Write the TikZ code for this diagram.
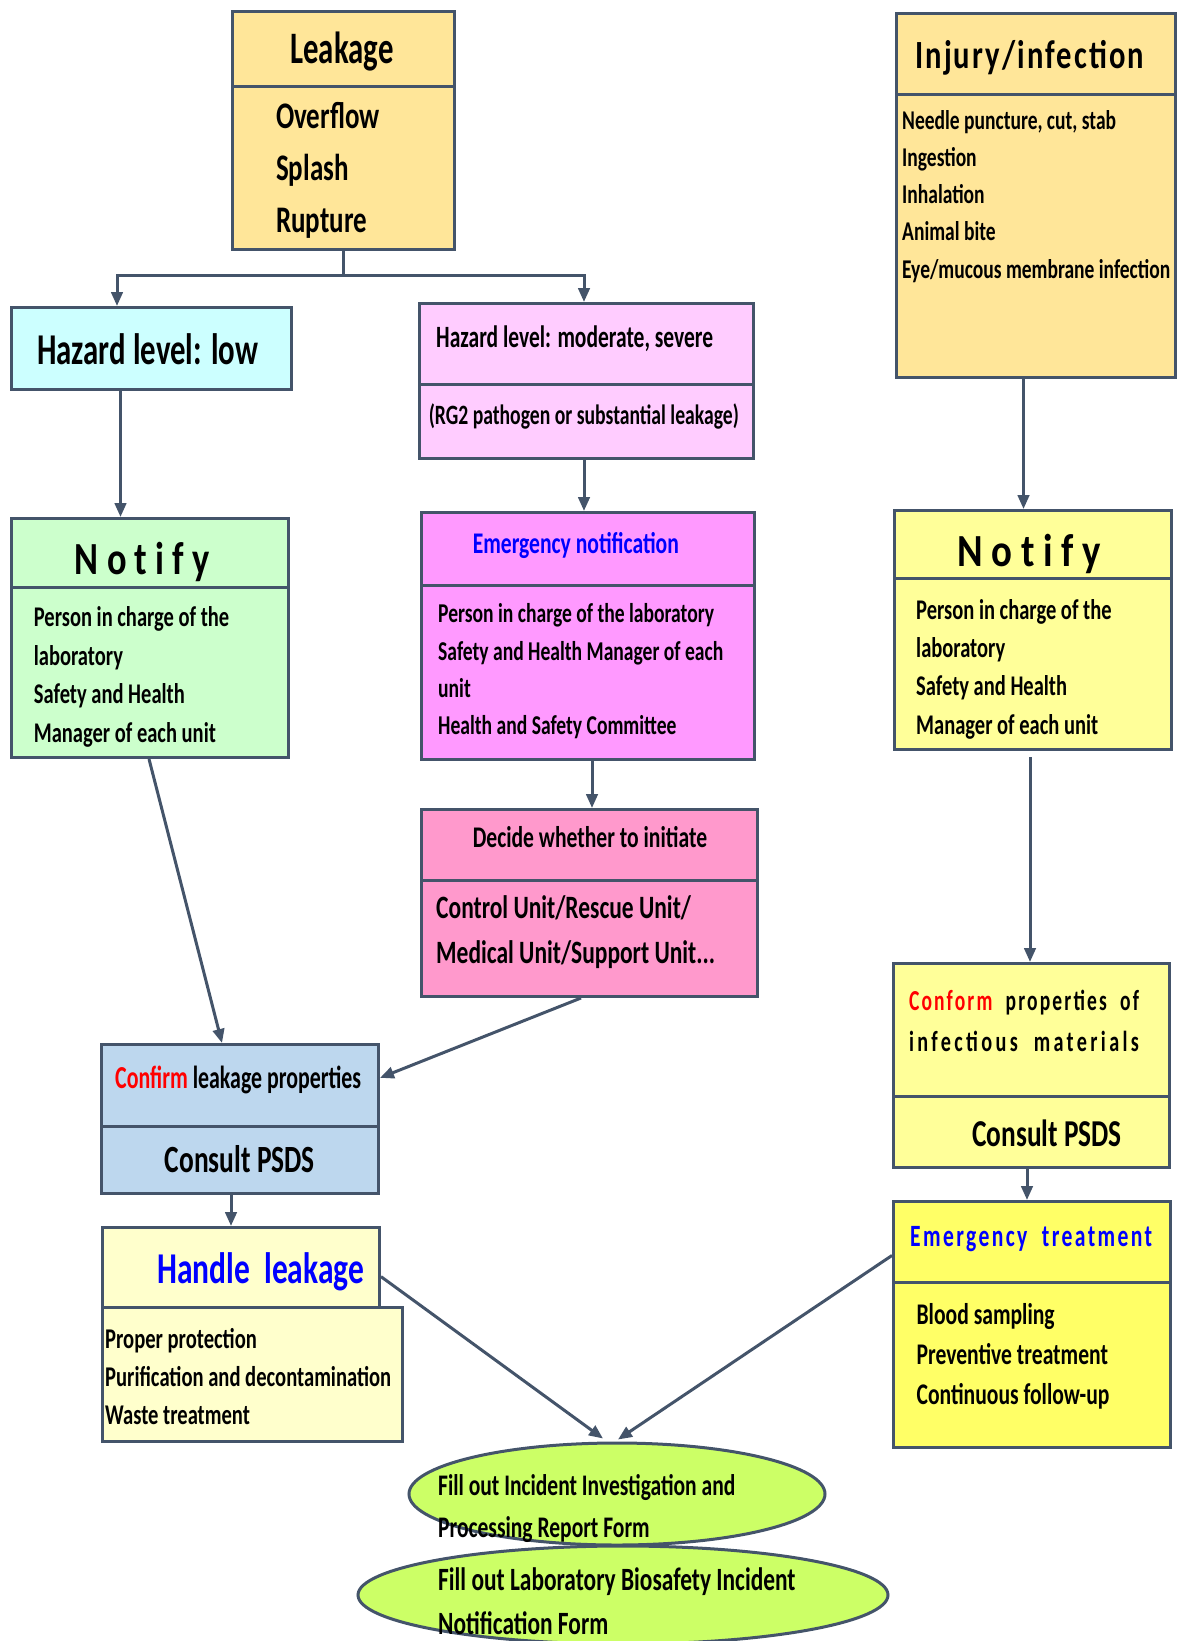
\documentclass[tikz,border=0pt]{standalone}
\usepackage{fontspec}
\setmainfont{Carlito}[FakeStretch=0.72]
\usetikzlibrary{arrows.meta,calc,shapes.geometric}
\definecolor{edge}{RGB}{68,84,106}
\definecolor{leakc}{HTML}{FFE699}
\definecolor{lowc}{HTML}{CCFFFF}
\definecolor{modc}{HTML}{FFCCFF}
\definecolor{magc}{HTML}{FF99FF}
\definecolor{decc}{HTML}{FF99CC}
\definecolor{grnc}{HTML}{CCFFCC}
\definecolor{yelc}{HTML}{FFFF99}
\definecolor{bluc}{HTML}{BDD7EE}
\definecolor{hndc}{HTML}{FFFFCC}
\definecolor{emc}{HTML}{FFFF66}
\definecolor{ellc}{HTML}{CCFF66}
\definecolor{tblue}{HTML}{0000FF}
\definecolor{tred}{HTML}{FF0000}
\newcommand\fs[1]{\fontsize{#1}{#1}\selectfont\bfseries}
\newcommand\stk[2]{\vtop{\baselineskip=#1\lineskiplimit=-\maxdimen\lineskip=0pt\halign{##\hfil\cr#2\crcr}}}
\newcommand\rw[2]{\resizebox{#1}{\height}{#2}}
\newcommand\bx[6]{\node[box,fill=#2,minimum width={(#5)-(#3)},minimum height={(#6)-(#4)}] (#1) at (#3,#4) {};}
\tikzset{
  box/.style={draw=edge,line width=3pt,rectangle,inner sep=0pt,anchor=north west},
  conn/.style={draw=edge,line width=3pt},
  arr/.style={conn,-{Triangle[length=14pt,width=11.5pt]}},
  txt/.style={inner sep=0pt,anchor=base west},
  ell/.style={ellipse,draw=edge,fill=ellc,line width=3pt,inner sep=0pt},
}
\begin{document}
\begin{tikzpicture}[x=1pt,y=-1pt]
\useasboundingbox (0,0) rectangle (1176,1641);
% boxes
\bx{leakTop}{leakc}{231}{10}{453}{85}
\bx{leakBody}{leakc}{231}{85}{453}{248}
\bx{injTop}{leakc}{895}{12}{1174}{93}
\bx{injBody}{leakc}{895}{93}{1174}{376}
\bx{low}{lowc}{10}{306}{290}{388}
\bx{modTop}{modc}{418}{302}{752}{383}
\bx{modBody}{modc}{418}{383}{752}{457}
\bx{gTop}{grnc}{10}{517}{287}{586}
\bx{gBody}{grnc}{10}{586}{287}{756}
\bx{mTop}{magc}{420}{511}{753}{584}
\bx{mBody}{magc}{420}{584}{753}{758}
\bx{yTop}{yelc}{893}{509}{1170}{577}
\bx{yBody}{yelc}{893}{577}{1170}{748}
\bx{dTop}{decc}{420}{808}{756}{879}
\bx{dBody}{decc}{420}{879}{756}{995}
\bx{cTop}{yelc}{892}{962}{1168}{1095}
\bx{cBody}{yelc}{892}{1095}{1168}{1166}
\bx{bTop}{bluc}{100}{1043}{377}{1125}
\bx{bBody}{bluc}{100}{1125}{377}{1192}
\bx{hTop}{hndc}{101}{1226}{378}{1306}
\bx{hBody}{hndc}{101}{1306}{401}{1440}
\bx{eTop}{emc}{892}{1200}{1169}{1281}
\bx{eBody}{emc}{892}{1281}{1169}{1446}
\node[ell,minimum width=416pt,minimum height=102pt] (ell1) at (617,1494) {};
\node[ell,minimum width=530pt,minimum height=98pt] (ell2) at (623,1595) {};
% texts
\node[txt,anchor=base] (tLeak) at (342,63) {\rw{103pt}{\fs{45}Leakage}};
\node[txt,font=\fs{37.5}] (tLeakL) at (276,128) {\stk{52pt}{Overflow\cr Splash\cr Rupture}};
\node[txt] (tLow) at (37,364) {\rw{221pt}{\fs{44}Hazard level: low}};
\node[txt] (tMod) at (436,347) {\rw{277pt}{\fs{31}Hazard level: moderate, severe}};
\node[txt] (tRG) at (428.6,424) {\rw{310pt}{\fs{28}(RG2 pathogen or substantial leakage)}};
\node[txt] (tInj) at (915,68) {\rw{229pt}{\fs{40}\addfontfeature{LetterSpace=5}Injury/infection}};
\node[txt,font=\fs{27.1}] (tInjL) at (902,129) {\stk{37.3pt}{Needle puncture, cut, stab\cr Ingestion\cr Inhalation\cr Animal bite\cr Eye/mucous membrane infection}};
\node[txt] (tGN) at (74.6,574.6) {\rw{135pt}{\fs{46}N o t i f y}};
\node[txt,font=\fs{28.5}] (tGL) at (33.7,626.4) {\stk{38.7pt}{Person in charge of the\cr laboratory\cr Safety and Health\cr Manager of each unit}};
\node[txt,font=\fs{30},text=tblue] (tMN) at (472.6,553.2) {Emergency notification};
\node[txt,font=\fs{27.2}] (tML) at (438,622.9) {\stk{37.1pt}{Person in charge of the laboratory\cr Safety and Health Manager of each\cr unit\cr Health and Safety Committee}};
\node[txt,font=\fs{30}] (tDT) at (472.6,847.9) {Decide whether to initiate};
\node[txt,font=\fs{32.6}] (tDL) at (436,918.6) {\stk{45.3pt}{Control Unit/Rescue Unit/\cr Medical Unit/Support Unit...}};
\node[txt] (tYN) at (957,566.8) {\rw{144pt}{\fs{46}N o t i f y}};
\node[txt,font=\fs{28.5}] (tYL) at (916,619.3) {\stk{38.3pt}{Person in charge of the\cr laboratory\cr Safety and Health\cr Manager of each unit}};
\node[txt] (tC1) at (908.8,1010) {\rw{230pt}{\fs{29}\addfontfeature{LetterSpace=8}\textcolor{tred}{Conform}\ \ properties\ \ of}};
\node[txt] (tC2) at (908.8,1051) {\rw{230pt}{\fs{29}\addfontfeature{LetterSpace=12}infectious\ \ materials}};
\node[txt,font=\fs{38}] (tCP) at (972,1146) {Consult PSDS};
\node[txt] (tB1) at (115,1088) {\rw{246pt}{\fs{32}\textcolor{tred}{Confirm} leakage\ properties}};
\node[txt] (tB2) at (164.6,1172.5) {\rw{150pt}{\fs{38.5}Consult PSDS}};
\node[txt] (tH1) at (157,1283) {\rw{207pt}{\fs{44}\textcolor{tblue}{Handle\ \ leakage}}};
\node[txt,font=\fs{28.6}] (tHL) at (105,1348.7) {\stk{38pt}{Proper protection\cr Purification and decontamination\cr Waste treatment}};
\node[txt] (tE1) at (910,1246.5) {\rw{242pt}{\fs{31}\addfontfeature{LetterSpace=8}\textcolor{tblue}{Emergency\ \ treatment}}};
\node[txt,font=\fs{30}] (tEL) at (916.4,1324) {\stk{40pt}{Blood sampling\cr Preventive treatment\cr Continuous follow-up}};
\node[txt,font=\fs{29.9}] (tF1) at (438,1495) {\stk{42pt}{Fill out Incident Investigation and\cr Processing Report Form}};
\node[txt,font=\fs{32.5}] (tF2) at (438,1590) {\stk{44pt}{Fill out Laboratory Biosafety Incident\cr Notification Form}};
% connectors
\draw[conn] (leakBody.south) -- ++(0,24) coordinate (split);
\draw[arr] (split) -| ([xshift=107pt]low.north west);
\draw[arr] (split) -| ([xshift=166pt]modTop.north west);
\draw[arr] ([xshift=110.5pt]low.south west) coordinate (t1) -- (t1 |- gTop.north);
\draw[arr] ([xshift=166pt]modBody.south west) coordinate (t2) -- (t2 |- mTop.north);
\draw[arr] ([xshift=172pt]mBody.south west) coordinate (t3) -- (t3 |- dTop.north);
\draw[arr] ([xshift=139pt]gBody.south west) -- ([xshift=122pt]bTop.north west);
\draw[arr] ([xshift=161pt]dBody.south west) -- ($(bTop.north east)!0.41!(bTop.south east)$);
\draw[arr] ([xshift=131pt]bBody.south west) coordinate (t4) -- (t4 |- hTop.north);
\draw[arr] ($(hTop.north east)!0.61!(hTop.south east)$) -- ($(ell1.north)+(-14,-3)$);
\draw[arr] ($(eTop.north west)!0.66!(eTop.south west)$) -- ($(ell1.north)+(1,-2)$);
\draw[arr] ([xshift=128.5pt]injBody.south west) coordinate (t5) -- (t5 |- yTop.north);
\draw[arr] ([xshift=137pt,yshift=-6pt]yBody.south west) coordinate (t6) -- (t6 |- cTop.north);
\draw[arr] ([xshift=135pt]cBody.south west) coordinate (t7) -- (t7 |- eTop.north);
\end{tikzpicture}
\end{document}
